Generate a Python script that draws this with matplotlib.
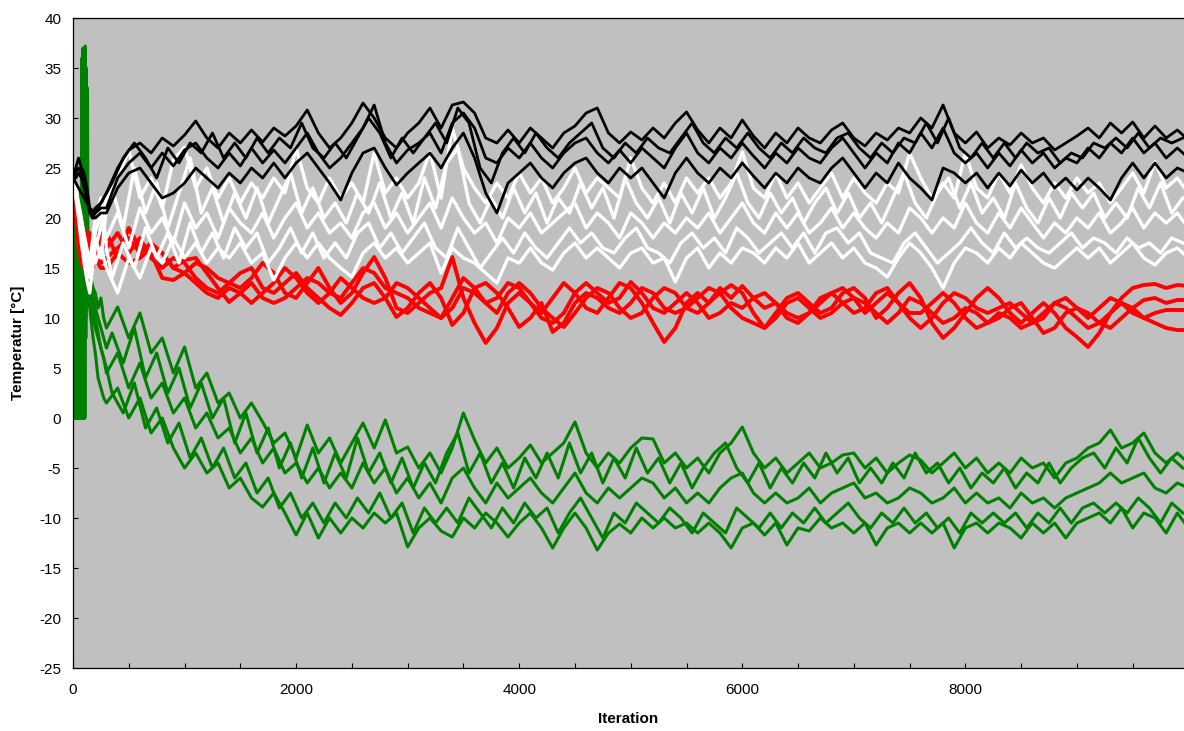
import matplotlib.pyplot as plt
import numpy as np
from matplotlib.ticker import MultipleLocator

plt.rcParams['font.family'] = ['Liberation Sans', 'DejaVu Sans']
plt.rcParams['axes.unicode_minus'] = False

# iteration axis: a finer start phase, then one sample every 100 iterations
head_it = [0, 25, 50, 75, 100, 125, 150, 175, 200, 250]
green_head_it = list(range(0, 145, 5)) + [160, 180, 200, 225, 250, 275]
main_it = list(range(300, 10001, 100))
# the extra runs are sampled half a step later
off_head_it = [0, 150, 200, 250, 300]
off_it = list(range(350, 10001, 100))

# black runs
b1_head = [24.0, 25.0, 26.0, 25.0, 24.5, 23.0, 21.0, 20.5, 21.0, 21.5]
b1 = [22.5, 25.0, 26.8, 27.5, 26.5, 28.0, 27.2, 28.3, 29.7, 28.0,
      27.0, 28.5, 27.5, 28.8, 27.6, 29.0, 28.2, 29.2, 30.8, 28.5,
      27.0, 28.0, 29.5, 31.5, 30.0, 28.0, 27.0, 28.5, 29.5, 31.0,
      29.0, 31.3, 31.6, 30.5, 28.0, 27.5, 28.8, 27.5, 29.0, 28.0,
      27.0, 28.5, 29.2, 30.5, 31.0, 28.5, 27.5, 28.6, 27.8, 29.0,
      28.0, 29.5, 30.6, 28.8, 27.5, 29.0, 28.0, 29.8, 28.2, 27.0,
      28.5, 27.5, 29.0, 28.0, 27.5, 28.8, 29.5, 28.0, 27.2, 28.5,
      27.8, 29.0, 28.5, 30.0, 29.0, 31.3, 28.5, 27.5, 28.6, 27.0,
      28.0, 27.3, 28.5, 27.5, 28.0, 26.8, 27.5, 28.2, 29.0, 28.0,
      29.5, 28.5, 29.6, 28.0, 29.2, 28.0, 28.8, 27.8]
b2_head = [24.0, 24.5, 25.0, 24.5, 23.0, 22.0, 21.0, 20.0, 20.5, 21.0]
b2 = [21.0, 24.0, 25.5, 26.5, 25.0, 26.5, 25.2, 26.8, 27.5, 26.0,
      25.0, 26.5, 25.2, 27.0, 25.5, 26.8, 25.5, 27.0, 28.5, 26.5,
      25.0, 26.0, 27.5, 29.0, 31.3, 27.5, 25.5, 26.8, 27.5, 28.5,
      26.5, 29.5, 30.5, 29.0, 26.0, 25.5, 27.0, 26.0, 27.5, 26.0,
      25.0, 26.5, 27.5, 28.0, 26.5, 25.5, 26.8, 25.5, 27.0, 26.0,
      25.0, 27.0, 28.5, 26.5, 25.5, 27.0, 26.0, 27.5, 26.2, 25.0,
      26.5, 25.5, 27.0, 26.0, 25.5, 27.0, 28.0, 26.5, 25.0, 26.5,
      25.5, 27.5, 26.5, 28.5, 27.0, 29.0, 26.5, 25.5, 26.5, 25.0,
      26.5, 25.2, 26.8, 25.5, 26.5, 25.0, 26.0, 25.5, 27.0, 26.0,
      27.5, 26.5, 28.0, 26.5, 27.5, 26.0, 27.0, 26.0]
b3_head = [24.0, 24.0, 24.5, 24.0, 23.0, 22.0, 20.5, 20.0, 20.0, 20.5]
b3 = [20.5, 23.0, 24.5, 25.0, 23.5, 22.0, 22.5, 23.5, 25.0, 24.0,
      23.0, 24.5, 23.5, 25.0, 24.0, 25.5, 24.0, 25.5, 26.5, 25.0,
      23.5, 21.8, 24.5, 26.5, 27.0, 25.0, 23.3, 24.5, 25.5, 26.5,
      25.0, 27.0, 28.5, 26.0, 22.5, 20.5, 23.5, 24.5, 25.5, 24.0,
      23.0, 24.5, 25.5, 26.0, 24.5, 23.5, 25.0, 24.0, 25.0, 23.5,
      22.0, 24.5, 26.0, 24.5, 23.5, 25.0, 24.0, 25.5, 24.2, 23.0,
      24.5, 23.5, 25.0, 24.0, 23.5, 25.0, 26.0, 24.5, 23.0, 24.5,
      23.5, 25.5, 24.0, 23.0, 21.8, 25.0, 24.5, 23.5, 24.5, 23.0,
      24.5, 23.2, 24.8, 23.5, 24.5, 23.0, 24.0, 22.8, 24.0, 23.0,
      21.8, 24.0, 25.5, 24.0, 25.5, 24.0, 25.0, 24.5]
b4_head = [24.0, 21.0, 20.5, 21.5, 22.5]
b4 = [23.5, 26.0, 27.5, 26.0, 24.0, 27.0, 25.5, 27.5, 26.5, 28.5,
      26.0, 27.5, 26.0, 28.0, 26.5, 28.0, 27.0, 29.5, 27.0, 26.0,
      27.5, 26.0, 28.0, 30.0, 28.5, 26.0, 28.0, 26.5, 28.0, 29.5,
      27.5, 31.0, 29.5, 25.0, 23.5, 26.5, 28.0, 26.5, 28.5, 27.0,
      26.0, 27.5, 28.5, 29.5, 27.0, 26.0, 27.5, 26.5, 28.0, 27.0,
      26.5, 28.0, 29.5, 27.5, 26.5, 28.0, 27.0, 28.5, 27.0, 26.0,
      27.5, 26.5, 28.0, 27.0, 26.5, 28.0, 28.5, 27.0, 26.0, 27.5,
      26.5, 28.0, 27.5, 29.5, 27.5, 30.0, 27.0, 26.0, 27.5, 26.0,
      27.5, 26.0, 27.5, 26.5, 27.0, 25.5, 26.5, 26.0, 27.5, 27.0,
      28.0, 27.0, 28.5, 27.0, 28.0, 27.5, 28.0]

# white runs
w1_head = [24.0, 22.0, 20.0, 17.5, 15.5, 13.8, 12.5, 15.0, 17.0, 19.0]
w1 = [22.0, 24.0, 26.8, 22.0, 24.0, 21.0, 25.8, 27.1, 23.0, 25.0,
      22.0, 24.0, 21.5, 23.5, 22.0, 24.0, 22.5, 27.0, 23.0, 21.5,
      24.0, 22.0, 23.5, 21.5, 26.5, 22.5, 24.0, 22.0, 23.5, 26.6,
      22.0, 29.0, 25.0, 23.0, 21.5, 23.5, 22.0, 24.5, 22.5, 24.0,
      21.5, 23.0, 25.0, 22.5, 24.0, 23.0, 22.0, 26.0, 23.0, 21.5,
      23.5, 21.5, 24.0, 22.5, 24.0, 22.0, 23.5, 26.6, 23.0, 22.0,
      24.5, 22.0, 23.5, 21.5, 23.0, 24.5, 22.0, 24.0, 22.5, 21.5,
      23.5, 22.5, 26.5, 24.0, 22.0, 23.5, 22.0, 26.5, 23.0, 22.0,
      24.5, 22.5, 25.3, 23.0, 21.5, 23.5, 22.0, 24.0, 22.5, 23.5,
      21.5, 23.0, 24.5, 22.5, 25.6, 23.0, 24.0, 22.5]
w2_head = [24.0, 22.5, 21.0, 19.0, 17.0, 15.5, 14.5, 16.5, 18.5, 20.5]
w2 = [18.0, 20.5, 17.0, 21.0, 18.5, 20.0, 17.5, 21.5, 19.0, 20.5,
      18.0, 21.0, 19.5, 18.5, 20.5, 18.0, 20.0, 21.5, 19.0, 20.5,
      18.5, 19.5, 18.0, 20.5, 21.5, 19.0, 20.5, 18.5, 20.0, 21.5,
      19.0, 22.0, 20.0, 18.5, 19.5, 17.5, 20.0, 19.0, 20.5, 18.5,
      19.5, 20.5, 21.5, 19.0, 20.5, 19.5, 18.0, 20.5, 19.5, 18.0,
      19.5, 18.5, 20.0, 19.0, 20.5, 18.5, 20.0, 21.5, 19.5, 18.5,
      20.5, 19.0, 20.5, 18.5, 19.5, 21.0, 19.0, 20.5, 19.0, 18.0,
      19.5, 18.5, 21.0, 20.0, 18.5, 20.0, 19.0, 21.5, 19.5, 18.5,
      20.5, 19.0, 21.0, 19.5, 18.0, 19.5, 18.5, 20.0, 19.0, 20.5,
      18.5, 19.5, 21.0, 19.0, 20.5, 19.5, 20.5, 19.0]
w3_head = [24.0, 23.0, 21.5, 20.0, 18.0, 16.5, 15.0, 17.0, 15.5, 17.0]
w3 = [15.0, 12.5, 16.0, 14.0, 17.0, 15.5, 18.0, 16.0, 17.5, 15.5,
      17.0, 16.0, 17.5, 15.5, 16.5, 13.8, 16.0, 17.5, 16.0, 17.5,
      16.0, 15.0, 14.1, 16.5, 17.5, 16.0, 17.0, 15.5, 16.5, 17.5,
      14.5, 17.0, 16.0, 15.5, 14.5, 13.5, 16.0, 15.5, 17.0, 15.5,
      14.8, 16.5, 17.5, 16.0, 17.0, 16.0, 15.0, 16.5, 17.0, 15.5,
      16.0, 13.6, 16.0, 17.0, 15.0, 16.5, 15.5, 17.0, 16.5, 15.5,
      17.0, 16.0, 17.5, 15.5, 16.5, 17.5, 16.0, 17.0, 15.5, 15.0,
      14.1, 16.0, 17.5, 16.5, 15.0, 13.0, 15.5, 17.0, 16.5, 15.5,
      17.0, 16.0, 17.5, 16.5, 15.5, 15.0, 16.0, 17.0, 16.0, 17.0,
      15.5, 16.5, 17.5, 16.0, 15.3, 16.5, 17.0, 16.0]
w4_head = [24.0, 14.0, 18.0, 16.0, 21.0]
w4 = [23.0, 19.0, 25.0, 20.5, 23.5, 19.0, 22.5, 26.0, 20.5, 23.0,
      19.5, 22.5, 20.0, 23.0, 19.5, 22.0, 24.5, 20.5, 23.0, 20.0,
      21.5, 19.5, 22.5, 20.5, 23.5, 20.0, 22.5, 19.5, 24.0, 21.0,
      25.5, 27.0, 21.5, 19.5, 22.0, 20.0, 23.0, 20.5, 22.5, 19.5,
      22.0, 20.5, 23.5, 21.0, 23.0, 20.0, 24.0, 21.5, 20.0, 22.0,
      19.5, 22.5, 20.5, 23.0, 20.0, 22.0, 24.5, 21.5, 20.0, 22.5,
      20.5, 22.0, 19.5, 21.5, 23.0, 20.5, 22.5, 20.0, 21.5, 19.5,
      22.0, 24.5, 21.5, 20.0, 22.5, 24.0, 21.0, 23.5, 20.5, 22.0,
      20.0, 23.5, 21.0, 19.5, 22.0, 20.0, 22.5, 21.0, 22.5, 20.0,
      21.5, 20.0, 23.0, 21.0, 23.5, 20.5, 22.0]
w5_head = [24.0, 15.5, 20.0, 22.0, 17.0]
w5 = [14.0, 17.5, 15.0, 19.0, 16.0, 18.5, 15.5, 19.5, 16.5, 18.5,
      16.0, 19.0, 17.0, 18.5, 15.5, 17.0, 19.0, 16.5, 18.5, 16.0,
      17.5, 16.0, 18.5, 19.5, 17.0, 18.5, 16.5, 18.0, 19.5, 17.0,
      16.0, 19.0, 17.0, 15.0, 16.5, 18.0, 16.5, 18.5, 17.0, 16.0,
      17.5, 19.0, 17.5, 18.5, 17.0, 16.5, 18.0, 19.0, 17.0, 16.5,
      15.5, 17.5, 18.5, 17.0, 18.0, 16.5, 19.0, 18.0, 16.5, 17.5,
      18.5, 17.0, 18.5, 16.5, 18.5, 19.0, 17.5, 18.5, 16.5, 16.0,
      15.5, 17.5, 18.5, 17.0, 15.5, 16.5, 17.5, 19.0, 17.5, 16.5,
      18.5, 17.0, 18.0, 17.0, 16.5, 17.5, 18.5, 17.0, 18.0, 17.5,
      16.5, 18.0, 17.0, 17.5, 16.5, 18.0, 17.5]

# red runs
r1_head = [24.0, 22.0, 20.0, 18.0, 19.0, 17.0, 18.5, 16.0, 19.0, 17.0]
r1 = [18.5, 16.0, 19.0, 17.0, 16.5, 14.0, 13.8, 14.5, 15.5, 15.0,
      14.0, 13.5, 13.0, 14.0, 15.5, 14.5, 12.5, 12.0, 13.5, 15.0,
      13.0, 11.5, 12.5, 14.5, 16.1, 14.0, 11.0, 10.5, 11.5, 12.5,
      13.0, 16.1, 12.0, 9.5, 7.5, 9.0, 11.5, 12.5, 11.5, 10.5,
      12.0, 13.5, 12.5, 11.0, 10.5, 12.0, 13.5, 13.0, 11.5, 9.5,
      7.6, 9.0, 11.5, 12.5, 11.5, 12.5, 13.3, 12.5, 10.5, 9.0,
      10.5, 12.0, 12.5, 11.5, 10.5, 11.0, 12.5, 13.0, 12.0, 10.0,
      11.0, 12.5, 13.5, 12.0, 9.5, 8.0, 9.0, 10.5, 12.0, 13.0,
      12.0, 10.5, 9.5, 10.5, 11.5, 10.5, 9.0, 8.1, 7.1, 8.5,
      10.5, 12.0, 13.0, 13.3, 13.4, 13.0, 13.3, 13.2]
r2_head = [24.0, 21.0, 19.0, 16.0, 17.5, 18.0, 16.0, 17.5, 16.0, 18.5]
r2 = [17.0, 18.5, 16.5, 18.0, 16.0, 15.0, 16.0, 15.5, 14.0, 13.0,
      12.5, 13.5, 14.5, 15.0, 13.0, 12.5, 13.5, 14.5, 13.0, 12.0,
      11.0, 10.3, 11.5, 13.0, 13.5, 12.0, 10.1, 11.0, 12.5, 13.5,
      12.0, 9.3, 10.5, 13.0, 13.5, 12.5, 11.0, 9.1, 10.0, 11.5,
      8.6, 9.5, 11.5, 12.5, 12.0, 11.0, 10.5, 11.5, 13.0, 12.5,
      11.0, 10.5, 11.0, 12.0, 13.0, 12.5, 11.0, 10.0, 9.5, 9.0,
      10.0, 11.5, 12.0, 11.0, 10.0, 10.5, 11.5, 12.0, 11.5, 10.5,
      9.5, 10.5, 12.0, 11.5, 10.5, 9.5, 10.0, 11.0, 10.5, 9.5,
      10.0, 11.0, 11.5, 10.0, 8.5, 9.0, 10.5, 11.0, 10.5, 9.5,
      9.0, 10.0, 11.0, 11.8, 12.0, 11.5, 11.8, 11.8]
r3_head = [24.0, 23.0, 18.0, 19.0, 16.0, 17.0, 15.5, 17.0, 16.5, 15.5]
r3 = [16.0, 17.0, 18.0, 16.5, 17.5, 16.5, 15.0, 15.8, 16.0, 14.5,
      13.0, 11.6, 12.5, 13.5, 12.0, 11.5, 12.0, 13.0, 14.0, 13.5,
      12.5, 12.0, 13.5, 15.0, 14.5, 13.0, 12.5, 12.0, 11.0, 10.5,
      10.0, 12.0, 14.0, 13.0, 11.5, 10.5, 12.5, 13.5, 12.5, 11.0,
      10.0, 9.1, 10.5, 12.0, 13.0, 12.5, 11.0, 10.0, 10.5, 12.0,
      13.0, 12.5, 11.0, 10.5, 11.5, 13.0, 12.0, 13.2, 12.0, 11.0,
      11.5, 10.5, 10.0, 10.5, 11.5, 12.5, 13.0, 12.0, 10.5, 11.5,
      12.5, 11.5, 10.0, 9.0, 10.0, 11.5, 12.5, 12.0, 11.0, 10.5,
      11.0, 11.5, 10.5, 9.5, 10.0, 11.5, 12.0, 11.0, 10.0, 11.0,
      12.0, 11.5, 10.5, 10.0, 10.5, 10.8, 10.8, 10.8]
r4_head = [24.0, 20.0, 17.0, 15.5, 15.0, 16.0, 14.5, 15.0, 16.0, 15.0]
r4 = [15.0, 16.5, 15.5, 16.0, 17.0, 16.5, 15.0, 14.5, 13.5, 12.5,
      12.0, 13.0, 12.5, 11.5, 12.5, 13.5, 15.0, 14.0, 12.5, 11.5,
      12.5, 14.0, 13.0, 12.0, 11.5, 12.0, 13.5, 13.0, 12.0, 11.0,
      10.0, 11.0, 13.0, 12.5, 11.5, 12.0, 13.5, 13.0, 11.5, 10.0,
      9.5, 10.5, 12.5, 13.5, 12.5, 11.5, 12.0, 13.6, 12.5, 11.0,
      10.5, 11.5, 12.5, 11.5, 10.0, 10.5, 11.5, 11.0, 12.0, 12.5,
      11.5, 10.0, 9.5, 10.5, 12.0, 12.5, 11.5, 10.5, 11.0, 12.5,
      13.0, 11.5, 10.5, 10.5, 11.5, 12.5, 11.5, 10.0, 9.0, 9.5,
      10.5, 10.0, 9.0, 9.5, 10.5, 11.5, 11.0, 10.0, 9.0, 9.5,
      10.5, 11.5, 11.0, 10.0, 9.5, 9.0, 8.8, 8.8]

# green runs (start phase swings between 0 and the peak)
g1_head = [24, 0, 22, 0, 21, 0, 22, 0, 21, 0,
           22, 0, 21, 0, 23, 0, 36, 0, 37, 0,
           36.5, 0, 37.2, 8, 35, 12, 33, 14, 15,
           14, 13, 12.5, 11, 12, 10]
g1 = [9.0, 11.1, 8.0, 10.5, 6.5, 8.0, 4.5, 7.1, 3.0, 4.5,
      1.5, 2.5, 0.0, 1.5, -0.4, -2.5, -1.5, -4.0, -0.7, -3.5,
      -2.0, -4.5, -2.5, -0.5, -3.0, -0.2, -3.5, -2.9, -5.0, -3.5,
      -5.5, -3.0, 0.5, -2.2, -4.5, -3.0, -5.0, -4.0, -2.7, -4.5,
      -3.5, -2.5, -0.4, -3.5, -5.0, -3.5, -4.5, -3.0, -2.0, -2.1,
      -4.5, -3.5, -5.0, -4.0, -5.5, -3.5, -2.5, -0.9, -3.5, -5.0,
      -4.0, -5.5, -4.5, -3.5, -5.0, -4.5, -3.7, -3.5, -5.0, -4.0,
      -5.5, -4.5, -3.7, -4.2, -5.5, -4.5, -3.5, -5.0, -4.0, -5.5,
      -4.5, -5.5, -4.0, -5.0, -4.5, -6.0, -4.5, -4.0, -3.0, -2.5,
      -1.2, -3.0, -2.5, -1.5, -3.5, -4.5, -3.5, -4.5]
g2_head = [24, 0, 20, 0, 19, 0, 21, 0, 20, 0,
           19, 0, 22, 0, 20, 0, 30, 0, 33, 0,
           28, 0, 31, 10, 25, 13, 20, 14, 13.5,
           12, 10, 9, 8, 7, 6]
g2 = [4.5, 6.5, 3.0, 5.5, 2.0, 3.5, 0.5, 2.0, -1.0, 0.5,
      -2.0, -1.0, -3.5, -2.0, -4.5, -3.0, -5.5, -4.5, -6.5, -5.0,
      -7.0, -5.5, -7.0, -4.5, -6.5, -5.0, -7.5, -6.0, -8.0, -6.5,
      -8.5, -6.0, -5.0, -7.0, -8.5, -6.5, -8.0, -7.0, -6.0, -7.5,
      -8.5, -7.0, -5.5, -7.5, -8.5, -7.0, -8.0, -7.0, -6.0, -6.5,
      -8.0, -7.0, -8.5, -7.5, -8.5, -7.0, -6.0, -5.5, -7.5, -8.5,
      -7.5, -8.5, -8.0, -7.0, -8.5, -7.5, -7.0, -6.5, -8.0, -7.5,
      -8.5, -8.0, -7.0, -7.5, -8.5, -8.0, -7.0, -8.5, -7.5, -8.5,
      -8.0, -9.0, -7.5, -8.5, -8.0, -9.0, -8.0, -7.5, -7.0, -6.5,
      -5.5, -6.5, -6.0, -5.5, -7.0, -7.5, -6.5, -7.0]
g3_head = [24, 0, 18, 0, 20, 0, 19, 0, 21, 0,
           18, 0, 20, 0, 19, 0, 26, 0, 29, 0,
           27, 0, 24, 11, 18, 13, 15, 12.5, 12,
           10, 8, 6.5, 4, 3, 2]
g3 = [1.5, 3.0, 0.0, 2.0, -1.5, 0.0, -3.0, -5.0, -3.5, -5.5,
      -4.5, -7.0, -6.0, -8.0, -8.9, -7.5, -9.5, -11.7, -9.5, -12.0,
      -10.0, -11.5, -10.0, -11.0, -9.5, -10.5, -9.5, -12.9, -11.0, -10.0,
      -11.3, -11.9, -10.0, -11.0, -9.5, -10.5, -11.9, -10.5, -9.5, -11.0,
      -13.0, -11.0, -9.5, -11.0, -13.2, -11.5, -10.6, -11.5, -10.0, -11.0,
      -10.0, -11.0, -10.5, -11.5, -10.5, -11.5, -13.0, -11.0, -10.5, -11.7,
      -10.5, -12.7, -11.0, -11.3, -10.0, -11.0, -10.5, -11.5, -10.5, -12.7,
      -11.0, -10.5, -11.5, -10.5, -11.5, -10.5, -13.0, -11.0, -10.5, -11.5,
      -10.5, -11.0, -12.0, -10.5, -11.5, -10.5, -12.0, -10.5, -10.0, -9.5,
      -10.5, -9.0, -11.0, -9.5, -10.0, -11.5, -9.5, -11.0]
g4_head = [24.0, 14.0, 11.0, 9.0, 7.0]
g4 = [8.5, 5.5, 9.0, 4.0, 6.5, 2.5, 5.0, 1.0, 3.5, 0.0,
      2.0, -2.5, 0.5, -3.5, -1.0, -5.0, -2.5, -6.0, -3.0, -6.5,
      -3.5, -6.0, -2.0, -5.5, -3.5, -6.5, -4.0, -7.0, -4.5, -6.5,
      -3.5, -1.5, -5.5, -3.5, -6.5, -4.5, -7.0, -4.0, -6.0, -3.5,
      -6.0, -2.5, -5.5, -3.5, -6.5, -4.0, -6.0, -3.0, -5.5, -4.0,
      -6.5, -4.5, -7.0, -5.0, -3.5, -2.5, -5.0, -6.5, -4.5, -7.0,
      -5.0, -6.5, -4.5, -6.0, -3.5, -5.5, -4.0, -6.5, -5.0, -6.5,
      -4.5, -6.0, -3.5, -5.5, -4.5, -6.5, -5.0, -7.0, -5.5, -6.5,
      -5.0, -7.0, -5.5, -6.5, -4.5, -6.5, -5.0, -4.0, -3.5, -5.0,
      -3.0, -4.5, -2.0, -4.0, -5.5, -4.0, -5.0]
g5_head = [24.0, 13.0, 10.0, 7.0, 5.0]
g5 = [2.5, 0.5, 3.5, -1.0, 1.0, -2.5, -0.5, -4.0, -2.0, -5.0,
      -3.0, -6.0, -4.5, -7.5, -6.0, -9.0, -7.5, -10.0, -8.5, -10.5,
      -8.5, -10.0, -8.0, -9.5, -7.5, -10.0, -8.5, -11.5, -9.0, -10.5,
      -9.0, -10.5, -8.0, -9.5, -11.0, -9.0, -10.5, -8.5, -10.0, -9.0,
      -11.5, -9.5, -8.0, -10.0, -12.0, -9.5, -10.5, -8.5, -9.5, -10.5,
      -9.0, -10.0, -11.5, -9.5, -10.5, -11.5, -9.0, -10.0, -11.0, -9.5,
      -11.0, -9.5, -10.5, -9.0, -10.5, -9.5, -8.5, -10.0, -11.0, -9.5,
      -10.5, -9.0, -10.5, -9.5, -11.0, -10.0, -11.5, -9.5, -10.5, -9.5,
      -10.5, -9.5, -11.0, -9.5, -10.5, -9.0, -10.5, -9.0, -8.5, -9.5,
      -8.5, -9.5, -8.0, -9.0, -10.5, -8.5, -9.5]

fig = plt.figure(figsize=(11.84, 7.31), dpi=100)
ax = fig.add_axes([73 / 1184, 63 / 731, 1111 / 1184, 650 / 731])
ax.set_facecolor('#c0c0c0')

x_main = np.array(head_it + main_it)
x_green = np.array(green_head_it + main_it)
x_off = np.array(off_head_it + off_it)

green = [(x_green, g1_head + g1), (x_green, g2_head + g2), (x_green, g3_head + g3),
         (x_off, g4_head + g4), (x_off, g5_head + g5)]
red = [(x_main, r1_head + r1), (x_main, r2_head + r2),
       (x_main, r3_head + r3), (x_main, r4_head + r4)]
white = [(x_main, w1_head + w1), (x_main, w2_head + w2), (x_main, w3_head + w3),
         (x_off, w4_head + w4), (x_off, w5_head + w5)]
black = [(x_main, b1_head + b1), (x_main, b2_head + b2),
         (x_main, b3_head + b3), (x_off, b4_head + b4)]

for x, y in green:
    ax.plot(x, y, color='#008000', lw=2.2)
for x, y in red:
    ax.plot(x, y, color='#ff0000', lw=2.8)
for x, y in white:
    ax.plot(x, y, color='white', lw=2.4)
for x, y in black:
    ax.plot(x, y, color='black', lw=2.0)

ax.set_xlim(0, 9960)
ax.set_ylim(-25, 40)
ax.xaxis.set_major_locator(MultipleLocator(2000))
ax.xaxis.set_minor_locator(MultipleLocator(500))
ax.yaxis.set_major_locator(MultipleLocator(5))
ax.tick_params(which='both', direction='in', length=3.6, width=0.8, labelsize=11)
ax.tick_params(axis='y', pad=8.5)
ax.tick_params(axis='x', pad=11)
ax.spines['right'].set_visible(False)
for s in ['left', 'bottom', 'top']:
    ax.spines[s].set_linewidth(0.9)

ax.set_xlabel('Iteration', fontsize=11, fontweight='bold')
ax.set_ylabel('Temperatur [°C]', fontsize=11, fontweight='bold')
ax.xaxis.set_label_coords(0.5, -0.068)
ax.yaxis.set_label_coords(-0.043, 0.5)

fig.savefig('out.png', dpi=100)
